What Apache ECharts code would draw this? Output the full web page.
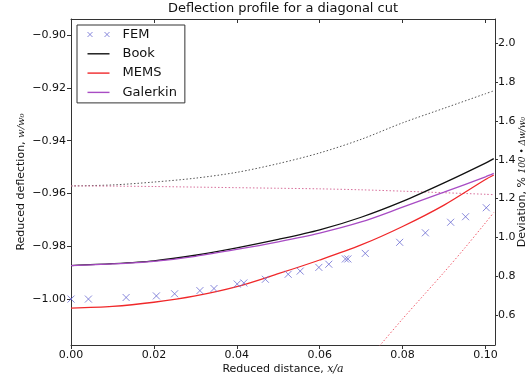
<!DOCTYPE html>
<html>
<head>
<meta charset="utf-8">
<script src="https://cdn.jsdelivr.net/npm/echarts@6/dist/echarts.min.js"></script>
<style>
  html, body { margin: 0; padding: 0; background: #fff; }
  #chart { width: 530px; height: 383px; }
</style>
</head>
<body>
<div id="chart"></div>
<script>
// Reduced distance along the diagonal cut
const gridX = [0, 0.01, 0.02, 0.03, 0.04, 0.05, 0.06, 0.07, 0.08, 0.09, 0.10, 0.102];

// Reduced deflection w/w0 for the three models
const bookY     = [-0.9873, -0.9866, -0.9855, -0.9834, -0.9806, -0.9774, -0.9738, -0.9690, -0.9630, -0.9560, -0.9485, -0.9468];
const memsY     = [-1.0034, -1.0028, -1.0012, -0.9988, -0.9953, -0.9904, -0.9852, -0.9795, -0.9725, -0.9644, -0.9547, -0.9530];
const galerkinY = [-0.9873, -0.9867, -0.9857, -0.9838, -0.9812, -0.9783, -0.9750, -0.9708, -0.9652, -0.9595, -0.9537, -0.9524];

// FEM reference points
const femX = [0.0, 0.0042, 0.0133, 0.0206, 0.0250, 0.0311, 0.0345, 0.0401, 0.0417, 0.0469,
              0.0524, 0.0553, 0.0598, 0.0622, 0.0662, 0.0668, 0.0710, 0.0793, 0.0855, 0.0916, 0.0952, 0.1002];
const femY = [-1.0000, -1.0000, -0.9994, -0.9988, -0.9980, -0.9968, -0.9960, -0.9943, -0.9939, -0.9925,
              -0.9906, -0.9894, -0.9880, -0.9868, -0.9848, -0.9848, -0.9827, -0.9785, -0.9749, -0.9709, -0.9688, -0.9654];

// Deviation in percent (right axis)
const devBookY     = [1.265, 1.270, 1.285, 1.305, 1.335, 1.380, 1.435, 1.505, 1.590, 1.665, 1.740, 1.755];
const devGalerkinY = [1.265, 1.264, 1.262, 1.259, 1.256, 1.253, 1.250, 1.245, 1.238, 1.230, 1.222, 1.220];
const devMemsX = [0.070, 0.075, 0.080, 0.085, 0.090, 0.095, 0.100, 0.102];
const devMemsY = [0.330, 0.455, 0.580, 0.700, 0.820, 0.945, 1.075, 1.128];

// Tick labels (first, last, step)
const xTicks = [0, 0.10, 0.02];
const yLeftTicks = [-1.00, -0.90, 0.02];
const yRightTicks = [0.6, 2.0, 0.2];

// Axis ranges of the plotting area
const xRange = [0, 0.1023];
const yLeftRange = [-1.0174, -0.8939];
const yRightRange = [0.4455, 2.125];

const FONT = 'DejaVu Sans';
const pairs = (xs, ys) => xs.map((x, i) => [x, ys[i]]);
const minus = s => s.replace('-', '\u2212');

const chart = echarts.init(document.getElementById('chart'), null, { renderer: 'canvas' });

const W = 530, H = 383;
const plot = { left: 71, right: 35, top: 19, bottom: 38, outerBoundsMode: 'none', containLabel: false };
const plotW = W - plot.left - plot.right;
const plotH = H - plot.top - plot.bottom;

// Each tick scale sits on its own grid that spans exactly its first to last
// labelled tick, so a plain interval puts the ticks on the labelled values.
function vTickGrid(range, ticks) {
  const k = plotH / (range[1] - range[0]);
  return { left: plot.left, right: plot.right,
           top: plot.top + (range[1] - ticks[1]) * k,
           bottom: plot.bottom + (ticks[0] - range[0]) * k,
           outerBoundsMode: 'none', containLabel: false };
}
function hTickGrid(range, ticks) {
  const k = plotW / (range[1] - range[0]);
  return { top: plot.top, bottom: plot.bottom,
           left: plot.left + (ticks[0] - range[0]) * k,
           right: plot.right + (range[1] - ticks[1]) * k,
           outerBoundsMode: 'none', containLabel: false };
}

const axisLineStyle = { show: true, onZero: false, lineStyle: { color: '#333', width: 1 } };
const noLine = { show: false, onZero: false };
const tickLine = { color: '#333', width: 1 };
const labelStyle = { fontFamily: FONT, fontSize: 11, color: '#111' };
const hidden = (gridIndex) => ({ type: 'value', gridIndex, show: false, min: 0, max: 1,
                                 axisLine: noLine, splitLine: { show: false } });

const crossPath = 'path://M0,0L10,10M10,0L0,10';
const lineIcon = 'path://M0,0H22V1.4H0Z';
const femColor = '#6c6cd2';
const bookColor = '#111';
const memsColor = '#f0282a';
const galerkinColor = '#a84cc4';

chart.setOption({
  animation: false,
  backgroundColor: '#fff',
  title: {
    text: 'Deflection profile for a diagonal cut',
    left: 283, top: 2, padding: 0, textAlign: 'center',
    textStyle: { fontFamily: FONT, fontSize: 13, fontWeight: 'normal', color: '#111' }
  },
  legend: {
    left: 77, top: 25,
    orient: 'vertical',
    padding: [3, 8, 4, 8],
    itemGap: 6.3,
    itemWidth: 22, itemHeight: 14,
    borderColor: '#333', borderWidth: 1, borderRadius: 0,
    backgroundColor: '#fff',
    textStyle: { fontFamily: FONT, fontSize: 13, color: '#111', padding: [0, 0, 0, 8] },
    data: [
      { name: 'FEM', icon: 'path://M0,0L5,5M5,0L0,5M17,0L22,5M22,0L17,5',
        itemStyle: { color: 'none', borderColor: femColor, borderWidth: 1 } },
      { name: 'Book', icon: lineIcon, itemStyle: { color: bookColor, borderWidth: 0 } },
      { name: 'MEMS', icon: lineIcon, itemStyle: { color: memsColor, borderWidth: 0 } },
      { name: 'Galerkin', icon: lineIcon, itemStyle: { color: galerkinColor, borderWidth: 0 } }
    ]
  },
  grid: [
    plot,                                   // 0: data
    vTickGrid(yLeftRange, yLeftTicks),      // 1: left ticks
    vTickGrid(yRightRange, yRightTicks),    // 2: right ticks
    hTickGrid(xRange, xTicks)               // 3: top and bottom ticks
  ],
  xAxis: [
    {
      type: 'value', gridIndex: 0, position: 'bottom', min: xRange[0], max: xRange[1],
      name: 'Reduced distance, {m|x/a}', nameLocation: 'middle', nameGap: 19,
      nameTextStyle: Object.assign({
        rich: { m: { fontFamily: 'DejaVu Serif', fontStyle: 'italic', fontSize: 11, color: '#111' } } }, labelStyle),
      axisLine: axisLineStyle, axisTick: { show: false }, axisLabel: { show: false },
      splitLine: { show: false }
    },
    {
      type: 'value', gridIndex: 0, position: 'top', min: xRange[0], max: xRange[1],
      axisLine: axisLineStyle, axisTick: { show: false }, axisLabel: { show: false },
      splitLine: { show: false }
    },
    hidden(1),
    hidden(2),
    {
      type: 'value', gridIndex: 3, position: 'bottom', min: xTicks[0], max: xTicks[1], interval: xTicks[2],
      axisLine: noLine,
      axisTick: { show: true, inside: false, length: 4, lineStyle: tickLine },
      axisLabel: Object.assign({ margin: 5, formatter: v => v.toFixed(2) }, labelStyle),
      splitLine: { show: false }
    },
    {
      type: 'value', gridIndex: 3, position: 'top', min: xTicks[0], max: xTicks[1], interval: xTicks[2],
      axisLine: noLine,
      axisTick: { show: true, inside: true, length: 4, lineStyle: tickLine },
      axisLabel: { show: false },
      splitLine: { show: false }
    }
  ],
  yAxis: [
    {
      type: 'value', gridIndex: 0, position: 'left', min: yLeftRange[0], max: yLeftRange[1],
      name: 'Reduced deflection, {m|w/w\u2080}', nameLocation: 'middle', nameGap: 44,
      nameTextStyle: Object.assign({
        rich: { m: { fontFamily: 'DejaVu Serif', fontStyle: 'italic', fontSize: 10, color: '#111' } } }, labelStyle),
      axisLine: axisLineStyle, axisTick: { show: false }, axisLabel: { show: false },
      splitLine: { show: false }
    },
    {
      type: 'value', gridIndex: 0, position: 'right', min: yRightRange[0], max: yRightRange[1],
      name: 'Deviation, % {m|100 \u2022 \u0394w/w\u2080}', nameLocation: 'middle', nameGap: 22, nameRotate: 90,
      nameTextStyle: Object.assign({
        rich: { m: { fontFamily: 'DejaVu Serif', fontStyle: 'italic', fontSize: 9, color: '#111' } } }, labelStyle),
      axisLine: axisLineStyle, axisTick: { show: false }, axisLabel: { show: false },
      splitLine: { show: false }
    },
    {
      type: 'value', gridIndex: 1, position: 'left', min: yLeftTicks[0], max: yLeftTicks[1], interval: yLeftTicks[2],
      axisLine: noLine,
      axisTick: { show: true, inside: false, length: 4, lineStyle: tickLine },
      axisLabel: Object.assign({ margin: 5, formatter: v => minus(v.toFixed(2)) }, labelStyle),
      splitLine: { show: false }
    },
    {
      type: 'value', gridIndex: 2, position: 'right', min: yRightTicks[0], max: yRightTicks[1], interval: yRightTicks[2],
      axisLine: noLine,
      axisTick: { show: true, inside: false, length: 3, lineStyle: tickLine },
      axisLabel: Object.assign({ margin: 3, formatter: v => v.toFixed(1) }, labelStyle),
      splitLine: { show: false }
    },
    hidden(3)
  ],
  series: [
    {
      name: 'FEM', type: 'scatter', xAxisIndex: 0, yAxisIndex: 0,
      symbol: crossPath, symbolSize: 7,
      itemStyle: { color: 'none', borderColor: femColor, borderWidth: 1 },
      data: pairs(femX, femY), z: 5
    },
    {
      name: 'Book', type: 'line', xAxisIndex: 0, yAxisIndex: 0,
      symbol: 'none', smooth: 0.3,
      lineStyle: { color: bookColor, width: 1.3 },
      itemStyle: { color: bookColor },
      data: pairs(gridX, bookY), z: 3
    },
    {
      name: 'MEMS', type: 'line', xAxisIndex: 0, yAxisIndex: 0,
      symbol: 'none', smooth: 0.3,
      lineStyle: { color: memsColor, width: 1.3 },
      itemStyle: { color: memsColor },
      data: pairs(gridX, memsY), z: 3
    },
    {
      name: 'Galerkin', type: 'line', xAxisIndex: 0, yAxisIndex: 0,
      symbol: 'none', smooth: 0.3,
      lineStyle: { color: galerkinColor, width: 1.3 },
      itemStyle: { color: galerkinColor },
      data: pairs(gridX, galerkinY), z: 3
    },
    {
      name: 'Book deviation', type: 'line', xAxisIndex: 0, yAxisIndex: 1,
      symbol: 'none', smooth: 0.3,
      lineStyle: { color: '#555', width: 1, type: [1.5, 2] },
      data: pairs(gridX, devBookY), z: 2
    },
    {
      name: 'Galerkin deviation', type: 'line', xAxisIndex: 0, yAxisIndex: 1,
      symbol: 'none', smooth: 0.3,
      lineStyle: { color: '#d8709c', width: 1, type: [1.5, 2] },
      data: pairs(gridX, devGalerkinY), z: 2
    },
    {
      name: 'MEMS deviation', type: 'line', xAxisIndex: 0, yAxisIndex: 1,
      symbol: 'none', smooth: 0.3, clip: true,
      lineStyle: { color: '#f05a6a', width: 1, type: [1.5, 2] },
      data: pairs(devMemsX, devMemsY), z: 2
    }
  ]
});
</script>
</body>
</html>
